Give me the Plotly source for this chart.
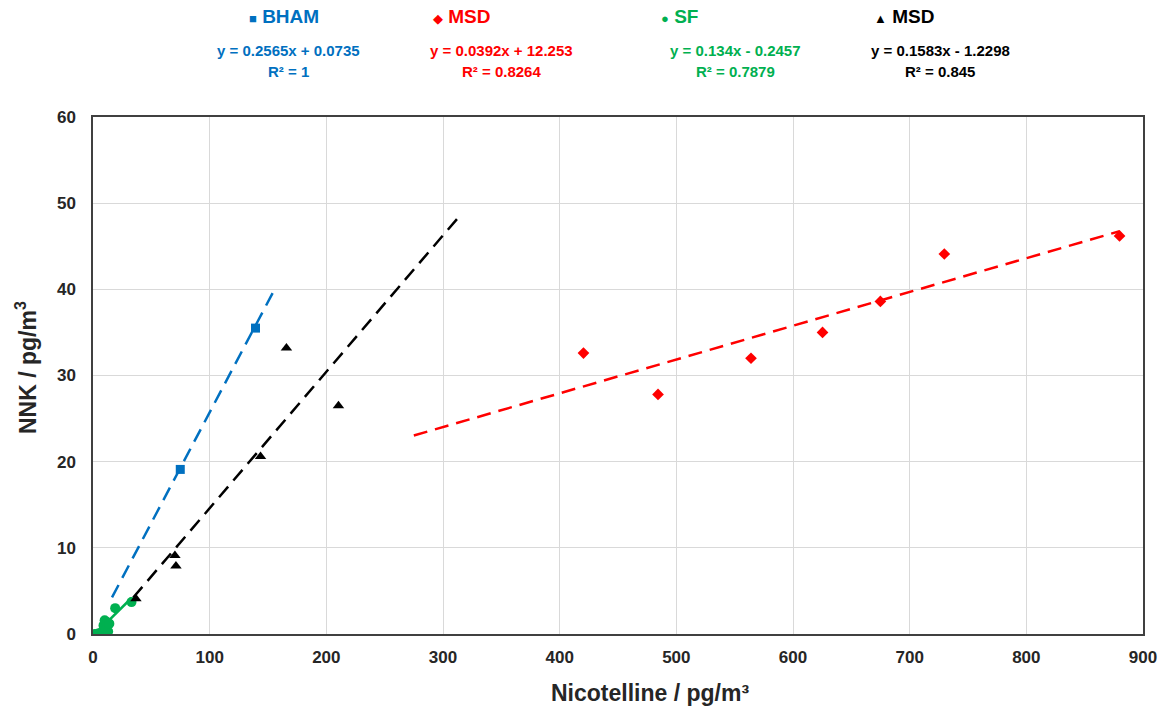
import plotly.graph_objects as go
import numpy as np

# ---- data ----
bham_x = [74.8, 139.3]
bham_y = [19.1, 35.5]

msd_red_x = [420.4, 484.3, 564.0, 625.3, 674.9, 729.7, 879.9]
msd_red_y = [32.6, 27.8, 32.0, 35.0, 38.6, 44.1, 46.2]

sf_x = [1.5, 5.0, 8.0, 9.0, 10.0, 11.0, 12.0, 13.0, 14.0, 19.0, 33.0]
sf_y = [0.0, 0.1, 0.3, 1.0, 1.6, 0.5, 1.4, 0.3, 1.2, 3.0, 3.7]

msd_blk_x = [36.8, 70.2, 71.1, 143.6, 165.8, 210.4]
msd_blk_y = [4.1, 9.1, 7.9, 20.6, 33.2, 26.5]

# trendline coefficients (slope, intercept) and x extents
trend_names = ["BHAM", "MSD red", "SF", "MSD black"]
trend_slope = [0.2565, 0.0392, 0.134, 0.1583]
trend_icpt = [0.0735, 12.253, -0.2457, -1.2298]
trend_xmin = [16.3, 275.0, 1.5, 34.5]
trend_xmax = [157.0, 880.0, 33.0, 312.8]

eq_line1 = ["y = 0.2565x + 0.0735", "y = 0.0392x + 12.253",
            "y = 0.134x - 0.2457", "y = 0.1583x - 1.2298"]
eq_line2 = ["R² = 1", "R² = 0.8264", "R² = 0.7879", "R² = 0.845"]
leg_names = ["BHAM", "MSD", "SF", "MSD"]
leg_symbols = ["■", "◆", "●", "▲"]

x_title = "Nicotelline / pg/m³"
y_title = "NNK / pg/m<sup>3</sup>"

colors = ["#0070C0", "#FF0000", "#00B050", "#000000"]
trend_dash = ["14px,8px", "14px,8px", "solid", "14px,8px"]

FONT = "Liberation Sans, Arial, sans-serif"
TXT = "#262626"

# plot area in pixels
L, R, T, B = 93, 1143, 117, 634


def px2paper(px, py):
    return (px - L) / (R - L), (B - py) / (B - T)


fig = go.Figure()

for i in range(4):
    xs = np.array([trend_xmin[i], trend_xmax[i]])
    ys = trend_slope[i] * xs + trend_icpt[i]
    fig.add_trace(go.Scatter(x=xs, y=ys, mode="lines",
                             line=dict(color=colors[i], width=2.5, dash=trend_dash[i]),
                             showlegend=False, hoverinfo="skip"))

fig.add_trace(go.Scatter(x=bham_x, y=bham_y, mode="markers",
                         marker=dict(symbol="square", size=9, color=colors[0]),
                         showlegend=False))
fig.add_trace(go.Scatter(x=msd_red_x, y=msd_red_y, mode="markers",
                         marker=dict(symbol="diamond", size=9, color=colors[1]),
                         showlegend=False))
fig.add_trace(go.Scatter(x=sf_x, y=sf_y, mode="markers",
                         marker=dict(symbol="circle", size=10, color=colors[2]),
                         showlegend=False))
fig.add_trace(go.Scatter(x=msd_blk_x, y=msd_blk_y, mode="markers",
                         marker=dict(symbol="triangle-up", size=10, color=colors[3]),
                         showlegend=False))

leg_x = [284, 462, 679, 904]
eq_x = [288, 501, 735, 940]
anns = []
for i in range(4):
    ax, ay = px2paper(leg_x[i], 17)
    anns.append(dict(
        x=ax, y=ay, xref="paper", yref="paper",
        xanchor="center", yanchor="middle", showarrow=False,
        text=f"<span style='font-size:13px'>{leg_symbols[i]}</span> <b>{leg_names[i]}</b>",
        font=dict(family=FONT, size=19, color=colors[i])))
    ax, ay = px2paper(eq_x[i], 50)
    anns.append(dict(
        x=ax, y=ay, xref="paper", yref="paper",
        xanchor="center", yanchor="middle", showarrow=False,
        text=f"<b>{eq_line1[i]}</b>",
        font=dict(family=FONT, size=15, color=colors[i])))
    ax, ay = px2paper(eq_x[i], 72)
    anns.append(dict(
        x=ax, y=ay, xref="paper", yref="paper",
        xanchor="center", yanchor="middle", showarrow=False,
        text=f"<b>{eq_line2[i]}</b>",
        font=dict(family=FONT, size=15, color=colors[i])))

# axis titles
ax, ay = px2paper(650, 693)
anns.append(dict(x=ax, y=ay, xref="paper", yref="paper",
                 xanchor="center", yanchor="middle", showarrow=False,
                 text=f"<b>{x_title}</b>",
                 font=dict(family=FONT, size=23, color=TXT)))
ax, ay = px2paper(26, 368)
anns.append(dict(x=ax, y=ay, xref="paper", yref="paper",
                 xanchor="center", yanchor="middle", showarrow=False,
                 textangle=-90,
                 text=f"<b>{y_title}</b>",
                 font=dict(family=FONT, size=23, color=TXT)))

fig.update_layout(
    width=1170, height=707,
    margin=dict(l=L, r=1170 - R, t=T, b=707 - B),
    paper_bgcolor="white", plot_bgcolor="white",
    font=dict(family=FONT, color=TXT),
    annotations=anns,
    xaxis=dict(range=[0, 900], dtick=100, tick0=0,
               showgrid=True, gridcolor="#D9D9D9", gridwidth=1,
               showline=True, linecolor="#404040", linewidth=1.5, mirror=True,
               zeroline=False, ticks="", ticklabelstandoff=7,
               tickfont=dict(family=FONT, size=17, color=TXT, weight="bold")),
    yaxis=dict(range=[0, 60], dtick=10, tick0=0,
               showgrid=True, gridcolor="#D9D9D9", gridwidth=1,
               showline=True, linecolor="#404040", linewidth=1.5, mirror=True,
               zeroline=False, ticks="", ticklabelstandoff=12,
               tickfont=dict(family=FONT, size=17, color=TXT, weight="bold")),
)

fig.write_html("out.html")
